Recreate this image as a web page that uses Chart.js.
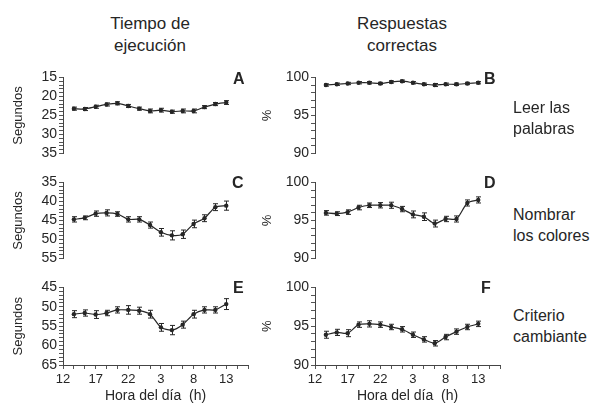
<!DOCTYPE html>
<html>
<head>
<meta charset="utf-8">
<script src="https://cdn.jsdelivr.net/npm/chart.js@4/dist/chart.umd.min.js"></script>
<style>
  body { margin: 0; background: #fff; width: 592px; height: 406px; position: relative; overflow: hidden;
         font-family: "Liberation Sans", Arial, sans-serif; color: #262626; }
  .box { position: absolute; width: 260px; }
  .title { position: absolute; font-size: 17px; line-height: 22px; text-align: center; width: 160px; }
  .side { position: absolute; font-size: 16px; line-height: 21px; }
  .tag { position: absolute; font-size: 16px; font-weight: bold; }
</style>
</head>
<body>
<div class="title" style="left:70px; top:13px;">Tiempo de<br>ejecución</div>
<div class="title" style="left:322px; top:13px;">Respuestas<br>correctas</div>

<div class="box" style="left:0; top:67px; height:97px;"><canvas id="chartA"></canvas></div>
<div class="box" style="left:252px; top:67px; height:97px;"><canvas id="chartB"></canvas></div>
<div class="box" style="left:0; top:172px; height:97px;"><canvas id="chartC"></canvas></div>
<div class="box" style="left:252px; top:172px; height:97px;"><canvas id="chartD"></canvas></div>
<div class="box" style="left:0; top:277px; height:129px;"><canvas id="chartE"></canvas></div>
<div class="box" style="left:252px; top:277px; height:129px;"><canvas id="chartF"></canvas></div>

<div class="tag" style="left:233px; top:70px;">A</div>
<div class="tag" style="left:484px; top:70px;">B</div>
<div class="tag" style="left:232px; top:174px;">C</div>
<div class="tag" style="left:484px; top:174px;">D</div>
<div class="tag" style="left:233px; top:279px;">E</div>
<div class="tag" style="left:481px; top:279px;">F</div>

<div class="side" style="left:513px; top:97px;">Leer las<br>palabras</div>
<div class="side" style="left:513px; top:204px;">Nombrar<br>los colores</div>
<div class="side" style="left:513px; top:305px;">Criterio<br>cambiante</div>

<script>
// hora del día (12 = mediodía, 27 = 3 h del día siguiente ...)
const hours = [13.67, 15.33, 17, 18.67, 20.33, 22, 23.67, 25.33, 27, 28.67, 30.33, 32, 33.67, 35.33, 37];
const xLabelHours = [12, 17, 22, 27, 32, 37];
const xLabelText = ["12", "17", "22", "3", "8", "13"];

// A: tiempo, leer las palabras (s)
const timeWords    = [23.2, 23.3, 22.7, 22.1, 21.8, 22.5, 23.2, 23.8, 23.6, 24.0, 23.8, 23.8, 22.8, 22.0, 21.6];
const timeWordsErr = [0.4, 0.4, 0.4, 0.4, 0.4, 0.4, 0.4, 0.5, 0.5, 0.4, 0.5, 0.5, 0.4, 0.4, 0.5];
// B: respuestas correctas, leer las palabras (%)
const accWords     = [99.0, 99.1, 99.2, 99.3, 99.3, 99.2, 99.4, 99.5, 99.3, 99.1, 99.0, 99.1, 99.1, 99.2, 99.3];
const accWordsErr  = [0.15, 0.15, 0.15, 0.15, 0.15, 0.15, 0.15, 0.15, 0.15, 0.15, 0.2, 0.15, 0.15, 0.15, 0.15];
// C: tiempo, nombrar los colores (s)
const timeColors    = [44.7, 44.3, 43.2, 43.0, 43.3, 44.7, 44.7, 46.2, 48.1, 48.9, 48.6, 45.9, 44.4, 41.5, 41.1];
const timeColorsErr = [0.7, 0.5, 0.7, 0.8, 0.6, 0.7, 0.7, 0.8, 1.0, 1.2, 1.1, 1.0, 0.9, 0.9, 1.2];
// D: respuestas correctas, nombrar los colores (%)
const accColors     = [96.0, 95.9, 96.1, 96.7, 97.0, 97.0, 97.0, 96.5, 95.8, 95.5, 94.6, 95.2, 95.2, 97.3, 97.7];
const accColorsErr  = [0.3, 0.25, 0.3, 0.3, 0.3, 0.35, 0.4, 0.35, 0.45, 0.5, 0.45, 0.35, 0.4, 0.4, 0.4];
// E: tiempo, criterio cambiante (s)
const timeShift     = [51.9, 51.6, 52.0, 51.6, 50.8, 50.8, 51.0, 51.9, 55.3, 56.0, 54.6, 51.9, 50.8, 50.8, 49.3];
const timeShiftErr  = [0.9, 0.8, 1.0, 0.7, 0.8, 1.1, 0.9, 1.0, 1.0, 1.2, 0.9, 1.0, 0.8, 0.8, 1.4];
// F: respuestas correctas, criterio cambiante (%)
const accShift      = [93.9, 94.2, 94.1, 95.2, 95.3, 95.2, 94.9, 94.6, 93.9, 93.3, 92.8, 93.6, 94.3, 94.9, 95.3];
const accShiftErr   = [0.45, 0.4, 0.45, 0.35, 0.4, 0.35, 0.35, 0.35, 0.35, 0.35, 0.35, 0.35, 0.35, 0.35, 0.35];

const ink = "#262626";
const font = "'Liberation Sans', Arial, sans-serif";

const errorBars = {
  id: "errorBars",
  afterDatasetsDraw(chart) {
    const { ctx, scales: { x, y } } = chart;
    const ds = chart.data.datasets[0];
    ctx.save();
    ctx.strokeStyle = ink;
    ctx.lineWidth = 1;
    ds.data.forEach((p, i) => {
      const e = ds.errors[i];
      const px = Math.round(x.getPixelForValue(p.x)) + 0.5;
      const y1 = y.getPixelForValue(p.y - e), y2 = y.getPixelForValue(p.y + e);
      ctx.beginPath();
      ctx.moveTo(px, y1); ctx.lineTo(px, y2);
      ctx.moveTo(px - 2.5, y1); ctx.lineTo(px + 2.5, y1);
      ctx.moveTo(px - 2.5, y2); ctx.lineTo(px + 2.5, y2);
      ctx.stroke();
    });
    ctx.restore();
  }
};

function makePanel(id, values, errs, yMin, yMax, reverse, yTitle, titlePad, showX) {
  const xTicks = [];
  for (let i = 0; i <= 17; i++) xTicks.push(12 + i * 5 / 3);
  const yTicks = [];
  for (let v = yMin; v <= yMax; v++) yTicks.push(v);

  new Chart(document.getElementById(id), {
    type: "line",
    data: {
      datasets: [{
        data: hours.map((h, i) => ({ x: h, y: values[i] })),
        errors: errs,
        borderColor: ink,
        borderWidth: 1.2,
        pointRadius: 2.2,
        pointBackgroundColor: ink,
        pointBorderWidth: 0,
        tension: 0.25
      }]
    },
    options: {
      responsive: true,
      maintainAspectRatio: false,
      animation: false,
      layout: { padding: { left: 0, right: 12, top: 10, bottom: showX ? 0 : 10 } },
      plugins: { legend: { display: false }, tooltip: { enabled: false } },
      scales: {
        x: {
          type: "linear",
          display: showX,
          min: 12,
          max: 12 + 17 * 5 / 3,
          afterBuildTicks: s => { s.ticks = xTicks.map(v => ({ value: v })); },
          afterFit: s => { s.height = showX ? 41 : 0; },
          ticks: {
            autoSkip: false, maxRotation: 0, padding: 3, color: ink,
            font: { family: font, size: 13 },
            callback: v => {
              const k = xLabelHours.findIndex(h => Math.abs(h - v) < 0.01);
              return k >= 0 ? xLabelText[k] : "";
            }
          },
          grid: { drawOnChartArea: false, tickLength: 4, color: "#555" },
          border: { color: "#444" },
          title: { display: true, text: "Hora del día  (h)", color: ink,
                   font: { family: font, size: 14 }, padding: { top: 0, bottom: 1 } }
        },
        y: {
          min: yMin,
          max: yMax,
          reverse: reverse,
          afterBuildTicks: s => { s.ticks = yTicks.map(v => ({ value: v })); },
          afterFit: s => { s.width = 63; },
          ticks: {
            autoSkip: false, padding: 2, color: ink,
            font: { family: font, size: 14 },
            callback: v => (v % 5 === 0 ? v : "")
          },
          grid: { drawOnChartArea: false, tickLength: 4, color: "#555" },
          border: { color: "#444" },
          title: { display: true, text: yTitle, color: ink,
                   font: { family: font, size: 13 }, padding: { top: titlePad, bottom: 0 } }
        }
      }
    },
    plugins: [errorBars]
  });
}

makePanel("chartA", timeWords, timeWordsErr, 15, 35, true, "Segundos", 11, false);
makePanel("chartB", accWords, accWordsErr, 90, 100, false, "%", 8, false);
makePanel("chartC", timeColors, timeColorsErr, 35, 55, true, "Segundos", 11, false);
makePanel("chartD", accColors, accColorsErr, 90, 100, false, "%", 8, false);
makePanel("chartE", timeShift, timeShiftErr, 45, 65, true, "Segundos", 11, true);
makePanel("chartF", accShift, accShiftErr, 90, 100, false, "%", 8, true);
</script>
</body>
</html>
